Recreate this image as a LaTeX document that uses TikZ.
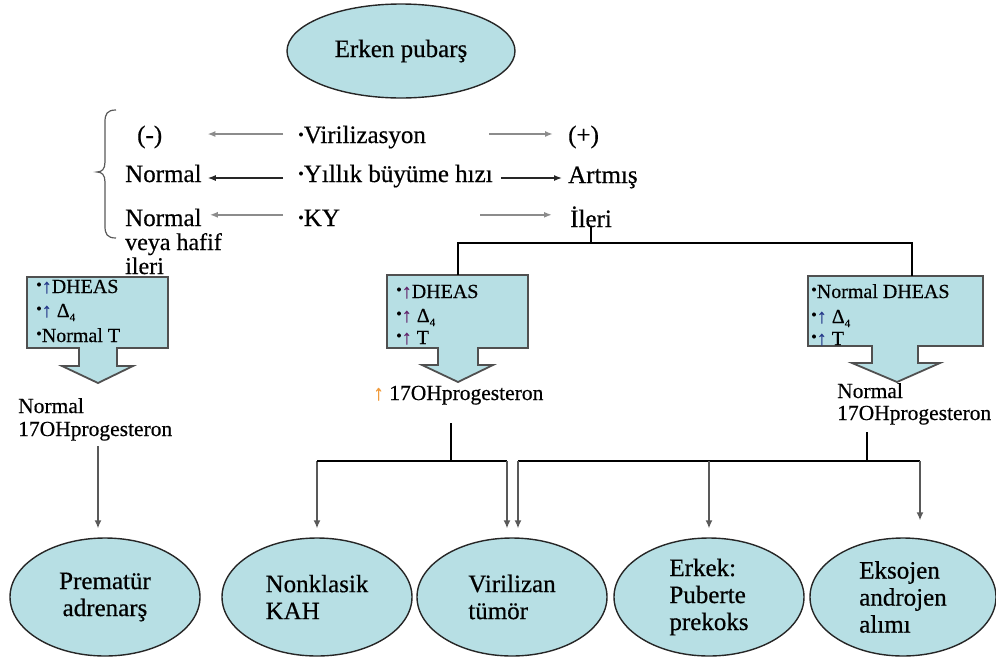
\documentclass[tikz,border=0pt]{standalone}
\usepackage{fontspec}
\setmainfont{Liberation Serif}[UprightFeatures={FakeBold=0.5}]
\usetikzlibrary{shapes.geometric,arrows.meta,calc}
\definecolor{fillblue}{RGB}{183,223,228}
\definecolor{edgegray}{RGB}{80,80,80}
\definecolor{uparrM}{RGB}{100,40,110}
\definecolor{uparrB}{RGB}{40,60,140}
\definecolor{orangearr}{RGB}{240,155,60}
\newcommand\mybul{{\fontsize{16}{16}\selectfont\raisebox{0.2em}{•}}}
\newcommand\myup[1]{\textcolor{#1}{↑}}
\newcommand\mydelta{Δ\raisebox{-0.2em}{\fontsize{11}{11}\selectfont 4}}
\begin{document}
\begin{tikzpicture}[x=1pt,y=-1pt,
  txt/.style={inner sep=0pt, anchor=base west, font=\fontsize{25}{25}\selectfont},
  txts/.style={inner sep=0pt, anchor=base west, font=\fontsize{24}{24}\selectfont},
  btxt/.style={inner sep=0pt, anchor=base west, font=\fontsize{20}{20}\selectfont},
  stxt/.style={inner sep=0pt, anchor=base west, font=\fontsize{21.5}{21.5}\selectfont},
  oval/.style={ellipse, draw=black!85, line width=1.4pt, fill=fillblue, inner sep=0pt,
    minimum width=190pt, minimum height=118pt, align=left, font=\fontsize{25}{27}\selectfont},
  callout/.style={draw=edgegray, line width=1.8pt, fill=fillblue, line join=miter},
  arr/.style={-{Latex[length=8pt,width=7pt]}, line width=1.4pt, draw=black!65},
  rowarr/.style={-{Latex[length=8pt,width=6pt]}, line width=2.2pt, draw=black!45},
  rowarrb/.style={-{Latex[length=8pt,width=6pt]}, line width=1.3pt, draw=black!85},
  link/.style={line width=1.6pt, draw=black}]
\useasboundingbox (0,0) rectangle (996,659);

% top ellipse
\node[oval, minimum width=228pt, minimum height=94pt, align=center] (top) at (401,51) {Erken pubarş};

% rows
\node[txt] (minus) at (137,143) {(-)};
\node[txt] (viri) at (298,143) {\mybul Virilizasyon};
\node[txt] (plus) at (568,143) {(+)};
\node[txt] (nor2) at (125,182) {Normal};
\node[txt] (yil) at (298,182) {\mybul Yıllık büyüme hızı};
\node[txt] (art) at (568,183) {Artmış};
\node[txt] (nor3) at (125,226) {Normal};
\node[txts] (veya) at (125,250) {veya hafif};
\node[txts] (ileri3) at (125,274) {ileri};
\node[txt] (ky) at (298,226) {\mybul KY};
\node[txt] (ileri) at (570,227) {İleri};

% brace
\draw[black!65, line width=1.2pt] (116,110) .. controls (107,110) and (105,114) .. (105,122)
  -- (105,162) .. controls (105,169) and (102,172) .. (97,172)
  .. controls (102,172) and (105,175) .. (105,182)
  -- (105,226) .. controls (105,234) and (107,238) .. (116,238);

% row arrows
\draw[rowarr] ($(viri.west)+(-15,-3)$) -- ($(viri.west -| minus.east)+(45,-3)$);
\draw[rowarr] ($(plus.west)+(-79,-3)$) -- ($(plus.west)+(-15,-3)$);
\draw[rowarrb] ($(yil.west)+(-15,2)$) -- ($(yil.west -| nor2.east)+(6,2)$);
\draw[rowarrb] ($(yil.east)+(8,2)$) -- ($(yil.east -| art.west)+(-6,2)$);
\draw[rowarr] ($(ky.west)+(-15,-3)$) -- ($(ky.west -| nor3.east)+(8,-3)$);
\draw[rowarr] ($(ky.west -| ileri.west)+(-90,-3)$) -- ($(ky.west -| ileri.west)+(-18,-3)$);

% callout boxes
\coordinate (cLtop) at (98,277);
\coordinate (cMtop) at (458,275);
\coordinate (cRtop) at (912,276);
\coordinate (tipL) at (98,383);
\coordinate (tipM) at (458,382);
\coordinate (tipR) at (897,382);
\draw[callout] (27,277) -- (168,277) -- (168,348) -- (117,348) -- (117,366) -- (133,366)
  -- (tipL) -- (62,366) -- (79,366) -- (79,348) -- (27,348) -- cycle;
\draw[callout] (387,275) -- (528,275) -- (528,348) -- (478,348) -- (478,365) -- (493,365)
  -- (tipM) -- (422,365) -- (438,365) -- (438,348) -- (387,348) -- cycle;
\draw[callout] (808,276) -- (983,276) -- (983,346) -- (918,346) -- (918,363) -- (940,363)
  -- (tipR) -- (852,363) -- (872,363) -- (872,346) -- (808,346) -- cycle;

\node[btxt] (l1) at (36,293) {\mybul\myup{uparrB}DHEAS};
\node[btxt] (l2) at (36,317) {\mybul\myup{uparrB} \mydelta};
\node[btxt] (l3) at (36,342) {\mybul Normal T};
\node[btxt] (m1) at (396,298) {\mybul\myup{uparrM}DHEAS};
\node[btxt] (m2) at (396,322) {\mybul\myup{uparrM} \mydelta};
\node[btxt] (m3) at (396,344) {\mybul\myup{uparrM} T};
\node[btxt] (r1) at (811,298) {\mybul Normal DHEAS};
\node[btxt] (r2) at (811,323) {\mybul\myup{uparrB} \mydelta};
\node[btxt] (r3) at (811,345) {\mybul\myup{uparrB} T};

% top connector
\coordinate (h0) at (592,243);
\draw[link] (ileri.south) -- (ileri.south |- h0);
\draw[link] (cMtop) |- (h0) -| (cRtop);

% result labels
\node[stxt] (l17a) at (18,413) {Normal};
\node[stxt] (l17b) at (18,436) {17OHprogesteron};
\node[stxt] (m17) at (373,400) {\textcolor{orangearr}{↑} 17OHprogesteron};
\node[stxt] (r17a) at (837,398) {Normal};
\node[stxt] (r17b) at (837,420) {17OHprogesteron};

% bottom ellipses
\node[oval, align=center] (pa) at (105,597) {Prematür\\adrenarş};
\node[oval] (nk) at (317,597) {Nonklasik\\KAH};
\node[oval] (vt) at (512,597) {Virilizan\\tümör};
\node[oval] (ep) at (709,597) {Erkek:\\Puberte\\prekoks};
\node[oval, minimum width=186pt] (ea) at (903,597) {Eksojen\\androjen\\alımı};

% bottom connectors
\draw[arr] ($(tipL |- l17b.base)+(0,10)$) -- ([yshift=9pt]tipL |- pa.north);
\coordinate (h1) at (451,461);
\coordinate (h2) at (867,461);
\draw[link] ($(h1 |- m17.base)+(0,23)$) -- (h1);
\draw[link] ($(h2 |- r17b.base)+(0,12)$) -- (h2);
\draw[link] (h1) -| ([xshift=-5pt]vt.north |- h1);
\draw[link] (h2) -| ([xshift=6pt]vt.north |- h2);
\draw[link] (h2) -| ([xshift=17pt]ea.north |- h2);
\draw[arr] (h1 -| nk.north) -- ([yshift=9pt]nk.north);
\draw[arr] ([xshift=-5pt]vt.north |- h1) -- ([xshift=-5pt,yshift=9pt]vt.north);
\draw[arr] ([xshift=6pt]vt.north |- h2) -- ([xshift=6pt,yshift=9pt]vt.north);
\draw[arr] (h2 -| ep.north) -- ([yshift=9pt]ep.north);
\draw[arr] ([xshift=17pt]ea.north |- h2) -- ([xshift=17pt,yshift=17pt]ea.north);
\draw[link] (h1) -- (h1 -| nk.north);
\end{tikzpicture}
\end{document}
